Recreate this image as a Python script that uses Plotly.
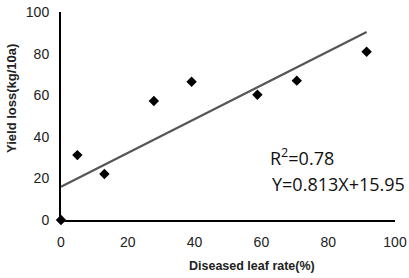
import plotly.graph_objects as go

rate = [0, 4.9, 13, 27.8, 39.1, 58.8, 70.6, 91.5]
loss = [0, 31.2, 22.1, 57.2, 66.5, 60.2, 67.0, 80.9]
slope = 0.813
intercept = 15.95
fit_x = [0, 91.5]
fit_y = [slope * v + intercept for v in fit_x]
ticks = [0, 20, 40, 60, 80, 100]
x_title = "Diseased leaf rate(%)"
y_title = "Yield loss(kg/10a)"

fig = go.Figure()
fig.add_trace(go.Scatter(x=fit_x, y=fit_y, mode="lines",
                         line=dict(color="#555555", width=2.2), showlegend=False))
fig.add_trace(go.Scatter(x=rate, y=loss, mode="markers", cliponaxis=False,
                         marker=dict(symbol="diamond", color="black", size=8),
                         showlegend=False))

fig.add_annotation(x=62, y=30.5, text="R<sup>2</sup>=0.78", showarrow=False,
                   xanchor="left", yanchor="middle",
                   font=dict(family="Open Sans", size=18, color="#111"))
fig.add_annotation(x=62.5, y=17.5, text="Y=0.813X+15.95", showarrow=False,
                   xanchor="left", yanchor="middle",
                   font=dict(family="Open Sans", size=18, color="#111"))

# axis titles placed as annotations to match the reference offsets
fig.add_annotation(xref="paper", yref="paper", x=0.572, y=-0.221,
                   text="<b>" + x_title + "</b>", showarrow=False,
                   xanchor="center", yanchor="middle",
                   font=dict(family="Liberation Sans", size=12.5, color="#222"))
fig.add_annotation(xref="paper", yref="paper", x=-0.1467, y=0.582,
                   text="<b>" + y_title + "</b>", showarrow=False, textangle=-90,
                   xanchor="center", yanchor="middle",
                   font=dict(family="Liberation Sans", size=13, color="#222"))

axis_common = dict(range=[0, 100], tickvals=ticks, showgrid=False, zeroline=False,
                   showline=True, linecolor="black", linewidth=2, ticks="",
                   automargin=False,
                   tickfont=dict(family="Liberation Sans", size=14, color="#222"))
fig.update_xaxes(**axis_common, ticklabelstandoff=8)
fig.update_yaxes(**axis_common, ticklabelstandoff=7)
fig.update_xaxes(tickprefix="<b>", ticksuffix="</b>")
fig.update_yaxes(tickprefix="<b>", ticksuffix="</b>")

fig.update_layout(width=409, height=278, margin=dict(l=61, r=14, t=12, b=58),
                  plot_bgcolor="white", paper_bgcolor="white")
fig.write_html("out.html")
